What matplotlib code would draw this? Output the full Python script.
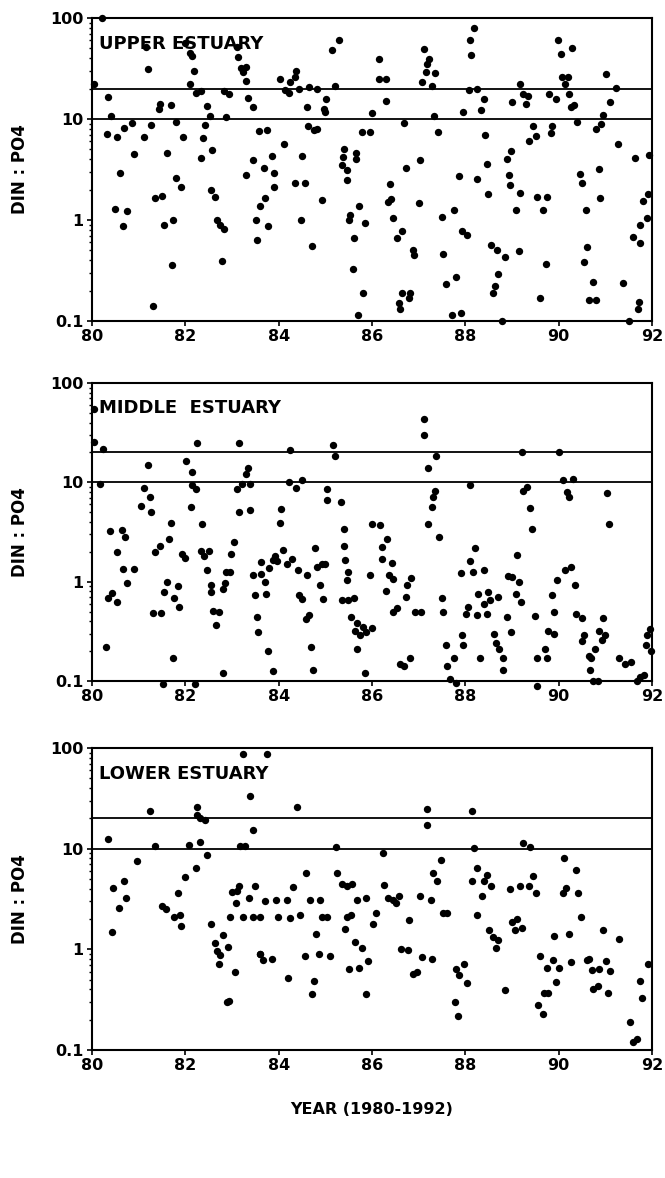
import matplotlib
matplotlib.use("Agg")
import matplotlib.pyplot as plt
from matplotlib.ticker import LogLocator, NullFormatter

plt.rcParams["font.family"] = ["DejaVu Sans"]

# ---- Upper estuary: sampling date (decimal year, 19xx) and DIN:PO4 ratio ----
upper_year = [
    80.21, 80.04, 80.35, 80.41, 80.33, 80.53, 80.69, 80.85, 80.89, 80.60, 80.50, 80.74, 80.66,
    81.11, 81.26, 81.15, 81.20, 81.31, 81.35, 81.51, 81.43, 81.46, 81.69, 81.61, 81.55, 81.73,
    81.71, 81.80, 81.91, 81.81, 81.96, 82.00, 82.10, 82.14, 82.19, 82.10, 82.23, 82.34, 82.47,
    82.53, 82.43, 82.37, 82.34, 82.58, 82.55, 82.64, 82.67, 82.74, 82.83, 82.78, 82.87, 82.83,
    82.94, 83.11, 83.13, 83.19, 83.23, 83.29, 83.31, 83.35, 83.46, 83.57, 83.46, 83.31, 83.60,
    83.51, 83.54,
    83.74, 83.68, 83.86, 83.91, 83.90, 83.71, 83.78, 84.12, 84.03, 84.13, 84.23, 84.24, 84.35,
    84.38, 84.43, 84.66, 84.83, 84.60, 84.63, 84.76, 84.83, 84.51, 84.35, 84.56, 84.92, 84.48,
    84.71, 85.01, 84.97, 85.00, 85.20, 85.15, 85.30, 85.40, 85.38, 85.36, 85.47, 85.46, 85.66,
    85.65, 85.72, 85.53, 85.51, 85.86, 85.61, 85.60, 85.80, 85.71, 85.78, 85.96, 86.00, 86.16,
    86.16, 86.29, 86.30, 86.69, 86.73, 87.02, 86.38, 86.40, 86.35, 87.00, 86.44, 86.65, 86.53,
    86.87, 86.90, 86.64, 86.81, 86.80, 86.58, 86.61, 87.11, 87.23, 87.18, 87.16, 87.36, 87.08,
    87.28, 87.33, 87.41,
    88.19, 88.09, 88.12, 88.07, 88.26, 88.39, 88.34, 87.94, 88.42, 88.46, 87.87, 88.24, 88.49,
    87.76, 87.49, 87.92, 88.03, 87.53, 87.80, 87.59, 87.71, 87.90, 88.54, 88.67, 88.86, 89.14,
    88.71, 88.64, 88.60, 88.79, 89.17, 89.23, 89.35, 89.29, 89.01, 89.46, 89.51, 89.36, 88.98,
    88.89, 88.94, 88.96, 89.17, 89.09, 89.54, 89.74, 89.66, 89.72, 89.61, 89.99, 90.29, 90.04,
    90.08, 90.19, 90.14, 89.80, 89.94, 90.23, 90.26, 90.33, 90.40, 89.86, 89.84, 90.46, 90.49,
    90.89, 90.86, 90.58, 90.61, 90.54, 90.73, 90.66, 90.80, 91.01, 91.23, 91.11, 90.94, 90.90,
    90.81, 91.28, 91.63, 91.94, 91.92, 91.81, 91.89, 91.74, 91.60, 91.74, 91.37, 91.73, 91.71,
    91.51,
]
upper_ratio = [
    100, 22, 16.4, 10.6, 7.1, 6.6, 8.1, 9.1, 4.5, 2.95, 1.29, 1.23, 0.87,
    6.6, 8.7, 52, 31, 0.14, 1.64, 1.72, 12.6, 14, 13.7, 4.6, 0.89, 1.0,
    0.36, 2.6, 2.14, 9.3, 6.6, 57, 45, 42, 30, 22, 18, 19, 13.5,
    10.6, 8.7, 6.5, 4.1, 4.9, 2.0, 1.7, 1.0, 0.89, 0.81, 0.39, 10.5, 19,
    17.6, 52, 41, 32, 29, 33, 24, 16, 13, 7.6, 3.9, 2.8, 1.38,
    1.0, 0.63,
    7.8, 3.3, 4.3, 2.9, 2.1, 1.66, 0.88, 5.6, 25, 19.5, 18, 23, 26,
    30, 20, 20.6, 19.8, 13, 8.6, 7.7, 7.9, 4.3, 2.3, 2.3, 1.58, 1.0,
    0.55, 15.8, 12.6, 11.6, 21, 48, 60, 5.0, 4.2, 3.5, 3.1, 2.5, 4.6,
    4.0, 1.38, 1.12, 0.99, 0.94, 0.66, 0.33, 0.19, 0.115, 7.5, 7.5, 11.5, 39,
    25, 25, 15, 9.1, 3.3, 3.9, 2.25, 1.6, 1.52, 1.48, 1.05, 0.78, 0.66,
    0.51, 0.45, 0.19, 0.19, 0.17, 0.15, 0.13, 49, 39, 35, 29.5, 28.5, 23,
    21, 10.7, 7.5,
    79, 60, 43, 19.5, 19.9, 15.8, 12.4, 11.8, 6.9, 3.6, 2.7, 2.54, 1.8,
    1.26, 1.06, 0.77, 0.71, 0.46, 0.27, 0.23, 0.115, 0.12, 0.56, 0.50, 0.43, 0.49,
    0.29, 0.22, 0.19, 0.10, 22, 17.7, 17, 14, 14.8, 8.6, 6.8, 6.0, 4.8,
    4.0, 2.8, 2.24, 1.85, 1.26, 1.68, 1.68, 1.26, 0.37, 0.17, 61, 50, 44,
    26, 26, 22, 17.7, 15.8, 17.7, 13, 13.7, 9.4, 8.6, 7.2, 2.85, 2.3,
    1.64, 3.2, 1.26, 0.54, 0.38, 0.245, 0.16, 0.16, 28, 20.5, 14.8, 11, 8.9,
    8.0, 5.7, 4.1, 4.4, 1.8, 1.55, 1.04, 0.89, 0.68, 0.59, 0.24, 0.155, 0.13,
    0.10,
]

# ---- Middle estuary ----
middle_year = [
    80.05, 80.05, 80.23, 80.17, 81.19, 81.11, 81.24, 81.05, 81.26, 80.39, 80.64, 80.71, 81.69,
    81.65, 82.24, 82.01, 82.15, 82.14, 82.23, 82.12, 82.36, 83.15, 83.34, 83.30, 83.38, 83.21,
    83.10, 83.15, 83.39,
    80.53, 80.67, 80.91, 80.76, 80.42, 80.35, 80.53, 80.31, 81.35, 81.46, 81.92, 81.99, 81.60,
    81.54, 81.84, 81.76, 81.86, 81.30, 81.48, 81.73, 81.53, 82.21, 82.34, 82.50, 82.41, 82.46,
    82.56, 82.54, 82.60, 82.73, 82.66, 82.81, 83.05, 82.98, 82.87, 82.96, 82.84, 82.81, 83.46,
    83.50, 83.53, 83.56, 83.62,
    84.24, 84.23, 84.37, 84.49, 85.17, 85.21, 85.03, 85.03, 85.33, 84.05, 84.03, 85.40, 86.01,
    86.17, 86.33, 86.21, 87.11, 87.11, 87.37, 87.21, 87.35, 87.31, 87.28, 87.21, 87.43,
    84.10, 83.92, 83.88, 83.96, 83.80, 84.28, 84.17, 83.63, 83.70, 83.73, 83.78, 83.88, 84.42,
    84.61, 84.78, 84.83, 84.92, 84.99, 84.88, 84.94, 84.44, 84.51, 84.66, 84.58, 84.69, 84.74,
    85.41, 85.43, 85.49, 85.47, 85.35, 85.49, 85.62, 85.56, 85.67, 85.81, 85.63, 85.74, 85.88,
    85.99, 85.67, 85.85, 86.21, 86.42, 86.37, 86.44, 85.96, 86.31, 86.53, 86.46, 86.83, 86.76,
    86.73, 86.92, 87.06, 86.60, 86.68, 86.81,
    88.11, 89.21, 90.01, 90.10, 90.30, 89.24, 89.33, 90.17, 90.23, 91.04, 89.39, 91.08, 89.42,
    88.21, 88.11, 88.17, 88.41, 87.90, 89.11, 88.92, 88.99, 89.15, 88.28, 88.49, 88.39, 88.53,
    88.69, 88.06, 88.01, 88.24, 88.46, 87.49, 87.53, 87.59, 87.76, 87.61, 87.67, 87.80, 87.92,
    87.96, 88.31, 89.09, 89.19, 88.89, 88.97, 88.61, 88.66, 88.73, 88.80, 88.80, 89.49, 89.96,
    90.14, 90.26, 90.35, 89.85, 89.89, 89.78, 89.91, 89.53, 89.71, 89.76, 89.53, 90.37, 90.51,
    90.54, 90.49, 90.96, 90.87, 90.99, 90.92, 90.64, 90.69, 90.78, 90.67, 90.74, 90.85, 91.30,
    91.42, 91.54, 91.96, 91.89, 91.87, 91.98, 91.74, 91.83, 91.67,
]
middle_ratio = [
    55, 25.5, 21.8, 9.7, 15, 8.8, 7.2, 5.8, 5.0, 3.2, 3.3, 2.8, 3.9,
    2.7, 25, 16.3, 12.8, 9.4, 8.5, 5.6, 3.8, 25, 14, 12.2, 9.7, 9.7,
    8.5, 5.0, 5.3,
    2.0, 1.33, 1.33, 0.98, 0.77, 0.69, 0.62, 0.22, 2.0, 2.3, 1.9, 1.73, 0.99,
    0.79, 0.9, 0.69, 0.55, 0.48, 0.48, 0.17, 0.093, 0.093, 2.05, 2.05, 1.8, 1.32,
    0.93, 0.79, 0.51, 0.49, 0.37, 0.12, 2.5, 1.9, 1.24, 1.24, 0.97, 0.84, 1.16,
    0.74, 0.44, 0.31, 1.58,
    21, 10, 8.8, 10.5, 24, 18.3, 8.6, 6.7, 6.3, 5.4, 3.9, 3.4, 3.8,
    3.7, 2.7, 2.25, 43, 30, 18.5, 14, 8.2, 7.2, 5.6, 3.8, 2.8,
    2.1, 1.8, 1.65, 1.6, 1.38, 1.7, 1.5, 1.2, 1.0, 0.76, 0.2, 0.125, 1.3,
    1.17, 2.2, 1.4, 1.5, 1.5, 0.92, 0.67, 0.73, 0.67, 0.46, 0.42, 0.22, 0.13,
    2.3, 1.65, 1.26, 1.04, 0.66, 0.66, 0.69, 0.44, 0.38, 0.35, 0.32, 0.29, 0.31,
    0.34, 0.21, 0.12, 1.7, 1.55, 1.18, 1.07, 1.18, 0.81, 0.54, 0.50, 1.1, 0.93,
    0.70, 0.49, 0.50, 0.15, 0.14, 0.17,
    9.4, 20, 20, 10.5, 10.7, 8.1, 8.9, 8.0, 7.2, 7.9, 5.5, 3.8, 3.4,
    2.2, 1.6, 1.26, 1.32, 1.23, 1.87, 1.15, 1.12, 1.0, 0.76, 0.78, 0.59, 0.66,
    0.70, 0.56, 0.47, 0.46, 0.47, 0.69, 0.50, 0.23, 0.17, 0.14, 0.105, 0.096, 0.29,
    0.23, 0.17, 0.76, 0.63, 0.44, 0.31, 0.30, 0.24, 0.21, 0.17, 0.13, 0.45, 1.05,
    1.3, 1.42, 0.93, 0.74, 0.50, 0.32, 0.30, 0.17, 0.21, 0.17, 0.09, 0.47, 0.43,
    0.29, 0.25, 0.43, 0.32, 0.29, 0.26, 0.18, 0.17, 0.21, 0.13, 0.10, 0.10, 0.17,
    0.15, 0.155, 0.33, 0.29, 0.23, 0.20, 0.11, 0.115, 0.10,
]

# ---- Lower estuary ----
lower_year = [
    80.35, 80.46, 80.69, 80.73, 80.58, 80.42, 80.96, 81.24, 81.35, 81.49, 81.59, 81.85, 81.99,
    82.22, 81.76, 81.89, 81.91, 82.08, 82.31, 82.26, 82.24, 82.31, 82.42, 82.46, 82.55, 82.80,
    82.64, 82.67, 82.74, 82.72, 82.92, 82.96, 83.06, 82.89, 82.94, 82.99, 83.11, 83.09, 83.16,
    83.24, 83.37, 83.44, 83.49, 83.17, 83.28, 83.23, 83.39, 83.44, 83.60,
    83.74, 84.40, 85.23, 87.17, 87.17, 86.23, 87.48, 87.31, 87.40, 84.58, 84.31, 85.26, 85.35,
    85.47, 85.58, 86.26, 87.03, 87.26, 83.71, 83.94, 84.17, 84.67, 84.88, 85.67, 85.88, 86.35,
    86.51, 86.58, 86.46, 86.08, 86.03, 87.53, 87.60, 83.60, 83.99, 84.24, 84.46, 84.92, 85.04,
    85.46, 85.54, 85.42, 84.80, 86.80, 85.63, 85.78, 83.61, 83.67, 83.86, 84.56, 84.86, 85.10,
    86.63, 86.78, 87.08, 87.28, 85.92, 85.51, 85.73, 84.21, 84.76, 84.71, 85.87, 86.87, 86.96,
    88.15, 88.19, 89.24, 89.39, 88.26, 88.46, 88.41, 88.54, 88.15, 88.35, 88.26, 88.96, 89.17,
    89.37, 89.44, 89.51, 90.11, 90.37, 90.16, 90.09, 90.41, 90.48, 89.01, 89.11, 89.22, 89.06,
    88.51, 88.60, 88.71, 88.66, 89.91, 90.23, 90.94, 91.29, 89.60, 89.87, 89.74, 90.01, 90.26,
    89.94, 89.69, 89.78, 89.56, 89.67, 90.60, 90.66, 90.71, 90.87, 91.01, 91.10, 90.74, 90.85,
    91.06, 91.91, 91.74, 91.79, 91.53, 88.85, 87.80, 87.86, 87.98, 88.04, 87.78, 87.85, 91.60,
    91.68,
]
lower_ratio = [
    12.5, 4.1, 4.8, 3.2, 2.6, 1.5, 7.6, 23.4, 10.7, 2.7, 2.5, 3.6, 5.2,
    6.5, 2.1, 2.2, 1.7, 10.9, 11.7, 26, 21.7, 20, 19.4, 8.6, 1.8, 1.4,
    1.16, 0.97, 0.88, 0.72, 1.05, 2.1, 0.59, 0.30, 0.31, 3.7, 3.8, 2.9, 4.3,
    2.1, 3.2, 2.1, 4.3, 10.7, 10.7, 88, 33, 15.4, 0.89,
    87, 26, 10.5, 25, 17.3, 9.0, 7.8, 5.7, 4.8, 5.7, 4.2, 5.7, 4.5,
    4.3, 4.5, 4.4, 3.4, 3.1, 3.0, 3.1, 3.1, 3.1, 3.1, 3.1, 3.2, 3.2,
    2.9, 3.4, 3.1, 2.3, 1.8, 2.3, 2.3, 2.1, 2.1, 2.04, 2.2, 2.1, 2.1,
    2.1, 2.2, 1.6, 1.42, 1.94, 1.19, 1.03, 0.9, 0.79, 0.81, 0.85, 0.9, 0.85,
    1.0, 0.98, 0.83, 0.81, 0.76, 0.64, 0.65, 0.52, 0.49, 0.36, 0.36, 0.57, 0.60,
    23.4, 10.2, 11.5, 10.3, 6.4, 5.5, 4.75, 4.3, 4.8, 3.4, 2.2, 4.0, 4.3,
    4.3, 5.4, 3.6, 8.0, 6.1, 4.1, 3.6, 3.6, 2.1, 1.86, 2.0, 1.63, 1.57,
    1.57, 1.34, 1.25, 1.02, 1.37, 1.42, 1.56, 1.27, 0.86, 0.78, 0.65, 0.65, 0.74,
    0.47, 0.37, 0.37, 0.28, 0.23, 0.79, 0.80, 0.63, 0.64, 0.77, 0.61, 0.40, 0.43,
    0.37, 0.71, 0.48, 0.33, 0.19, 0.39, 0.64, 0.55, 0.71, 0.46, 0.30, 0.22, 0.12,
    0.13,
]

panel_names = ["UPPER ESTUARY", "MIDDLE  ESTUARY", "LOWER ESTUARY"]
reference_ratios = [20, 10]
year_ticks = [80, 82, 84, 86, 88, 90, 92]
ratio_ticks = [0.1, 1, 10, 100]
ratio_tick_labels = ["0.1", "1", "10", "100"]

W, H = 665, 1178
fig = plt.figure(figsize=(W / 100, H / 100), dpi=100)

# panel frames in pixels from the top edge: (top, bottom)
frames = [(18, 321), (383, 681), (748, 1050)]
left_px, right_px = 92, 652

datasets = [(upper_year, upper_ratio), (middle_year, middle_ratio), (lower_year, lower_ratio)]

for (top, bot), (yrs, vals), name in zip(frames, datasets, panel_names):
    ax = fig.add_axes([left_px / W, (H - bot) / H, (right_px - left_px) / W, (bot - top) / H])
    ax.set_yscale("log")
    ax.set_xlim(80, 92)
    ax.set_ylim(0.1, 100)
    for r in reference_ratios:
        ax.axhline(r, color="black", lw=1.3, zorder=2)
    ax.scatter(yrs, vals, s=28, c="black", linewidths=0, zorder=3, clip_on=False)

    ax.set_xticks(year_ticks)
    ax.set_xticklabels([str(t) for t in year_ticks], fontweight="bold", fontsize=11.5)
    ax.set_yticks(ratio_ticks)
    ax.set_yticklabels(ratio_tick_labels, fontweight="bold", fontsize=11.5)
    ax.yaxis.set_minor_locator(LogLocator(base=10, subs=range(2, 10)))
    ax.yaxis.set_minor_formatter(NullFormatter())
    ax.tick_params(axis="both", which="major", direction="out", length=3.5, width=1.2,
                   pad=2.5, colors="black")
    ax.tick_params(axis="y", which="minor", direction="out", length=2.5, width=1)
    for sp in ax.spines.values():
        sp.set_linewidth(1.5)
        sp.set_color("black")

    ax.text(0.012, 0.915, name, transform=ax.transAxes, fontsize=13, fontweight="bold",
            ha="left", va="center", color="black")

    fig.text(20 / W, 1 - (top + bot) / 2 / H, "DIN : PO4", rotation=90,
             ha="center", va="center", fontsize=12, fontweight="bold")

fig.text(372 / W, 1 - 1110 / H, "YEAR (1980-1992)", ha="center", va="center",
         fontsize=11.5, fontweight="bold")

fig.savefig("out.png", dpi=100, facecolor="white")
